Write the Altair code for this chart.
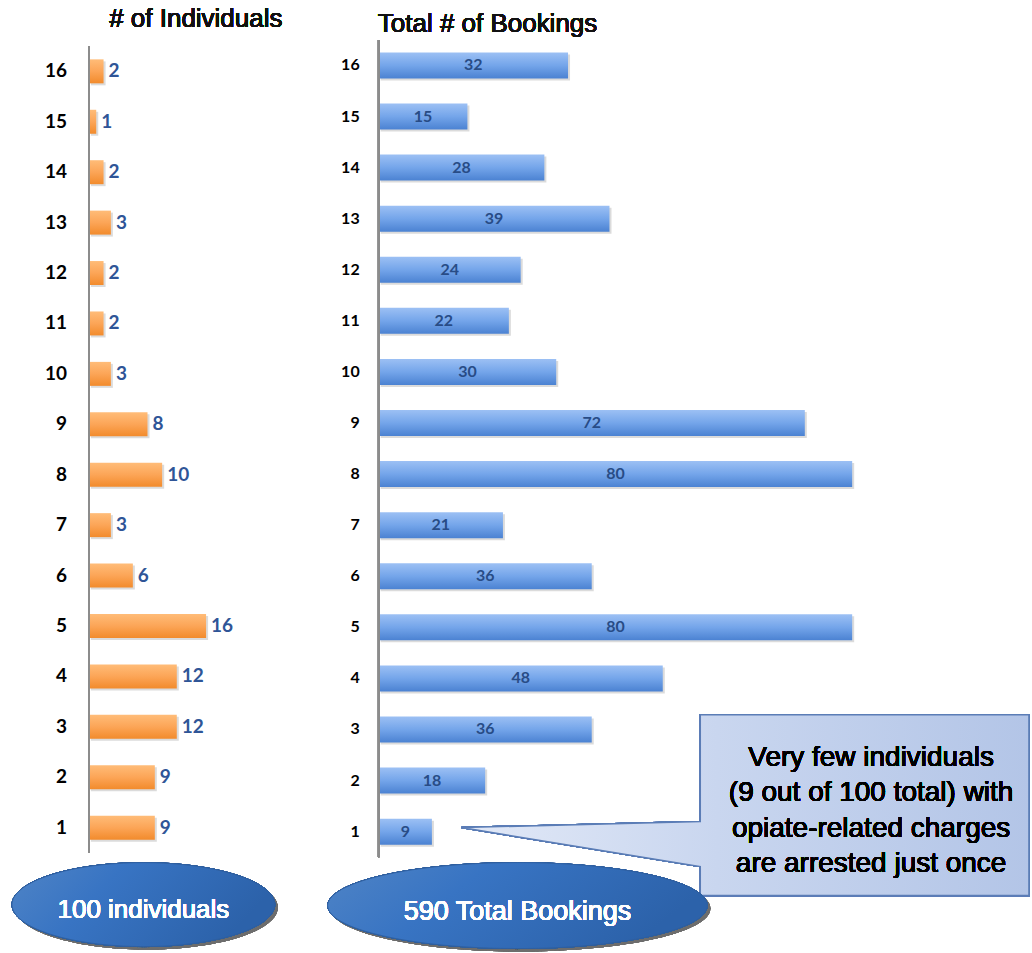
import altair as alt
import pandas as pd

# ---- data ----
arrests = list(range(1, 17))
individuals = [9, 9, 12, 12, 16, 6, 3, 10, 8, 3, 2, 2, 3, 2, 1, 2]
bookings = [9, 18, 36, 48, 80, 36, 21, 80, 72, 30, 22, 24, 39, 28, 15, 32]
left_title = "# of Individuals"
right_title = "Total # of Bookings"
left_total = "100 individuals"
right_total = "590 Total Bookings"
callout_lines = ["Very few individuals", "(9 out of 100 total) with",
                 "opiate-related charges", "are arrested just once"]

df_l = pd.DataFrame({"row": arrests, "value": individuals})
df_r = pd.DataFrame({"row": arrests, "value": bookings})

H = 953
LW, RW = 320, 712
TITLE_FONT = "Liberation Sans"
NUM_FONT = "Lato"


def ellipse_path(k):
    c = 0.5523
    return (f"M -1 0 C -1 {-c*k:.4f} {-c:.4f} {-k:.4f} 0 {-k:.4f} "
            f"C {c:.4f} {-k:.4f} 1 {-c*k:.4f} 1 0 "
            f"C 1 {c*k:.4f} {c:.4f} {k:.4f} 0 {k:.4f} "
            f"C {-c:.4f} {k:.4f} -1 {c*k:.4f} -1 0 Z")


orange_grad = alt.LinearGradient(
    gradient="linear", x1=0, y1=0, x2=0, y2=1,
    stops=[alt.GradientStop(offset=0, color="#FFBC78"),
           alt.GradientStop(offset=0.5, color="#FCA557"),
           alt.GradientStop(offset=1, color="#F28B2C")])
blue_grad = alt.LinearGradient(
    gradient="linear", x1=0, y1=0, x2=0, y2=1,
    stops=[alt.GradientStop(offset=0, color="#9CC0F4"),
           alt.GradientStop(offset=0.5, color="#74A5EA"),
           alt.GradientStop(offset=1, color="#4B82D2")])
ell_grad = alt.LinearGradient(
    gradient="linear", x1=0, y1=0, x2=1, y2=0.3,
    stops=[alt.GradientStop(offset=0, color="#4F84C6"),
           alt.GradientStop(offset=0.4, color="#3874C3"),
           alt.GradientStop(offset=1, color="#2C62AA")])
call_grad = alt.LinearGradient(
    gradient="linear", x1=0, y1=0, x2=1, y2=0,
    stops=[alt.GradientStop(offset=0, color="#E2E9F7"),
           alt.GradientStop(offset=0.45, color="#C9D6EF"),
           alt.GradientStop(offset=1, color="#B3C5E7")])

# ---- left panel ----
lx = alt.Scale(domain=[-89 / 7.33, (LW - 89) / 7.33], nice=False, zero=False)
ly = alt.Scale(domain=[1 - (H - 828) / 50.47, 1 + 828 / 50.47], nice=False, zero=False)
LH = 12 / 50.47

lbase = alt.Chart(df_l).transform_calculate(
    y1=f"datum.row - {LH}", y2=f"datum.row + {LH}")

l_shadow = lbase.mark_rect(color="#888888", opacity=0.3, xOffset=2, x2Offset=2,
                           yOffset=2, y2Offset=2).encode(
    x=alt.X("value:Q", scale=lx, axis=None), x2=alt.datum(0),
    y=alt.Y("y1:Q", scale=ly, axis=None), y2="y2:Q")
l_bars = lbase.mark_rect(color=orange_grad).encode(
    x=alt.X("value:Q", scale=lx, axis=None), x2=alt.datum(0),
    y=alt.Y("y1:Q", scale=ly, axis=None), y2="y2:Q")
l_axis = alt.Chart(df_l).mark_rule(color="#8C8C8C", strokeWidth=1.5).encode(
    x=alt.datum(0), y=alt.datum(0.5), y2=alt.datum(16.5))
l_vals = alt.Chart(df_l).mark_text(align="left", baseline="middle", dx=5,
                                    font=NUM_FONT, fontWeight="bold", fontSize=19,
                                    color="#2F5597").encode(
    x=alt.X("value:Q"), y=alt.Y("row:Q"), text="value:Q")
l_cats = alt.Chart(df_l).mark_text(align="right", baseline="middle", dx=-22,
                                    font=NUM_FONT, fontWeight="bold", fontSize=19,
                                    color="#000000").encode(
    x=alt.datum(0), y=alt.Y("row:Q"), text="row:Q")
l_title = alt.Chart(df_l).mark_text(font=TITLE_FONT, fontSize=26, color="#111111",
                                     fontWeight="normal", baseline="middle").encode(
    x=alt.datum(14.6), y=alt.datum(17.03), text=alt.datum(left_title))
LK = 84 / 263
l_ell_sh = alt.Chart(df_l).mark_point(shape=ellipse_path(LK), size=263 ** 2,
                                       filled=True, color="#6E6E6E", opacity=0.55,
                                       xOffset=3, yOffset=3).encode(
    x=alt.datum(7.44), y=alt.datum(-0.526))
l_ell = alt.Chart(df_l).mark_point(shape=ellipse_path(LK), size=263 ** 2,
                                    filled=True, fill=ell_grad, opacity=1,
                                    stroke="#2E5E9E", strokeWidth=0.8).encode(
    x=alt.datum(7.44), y=alt.datum(-0.526))
l_ell_t = alt.Chart(df_l).mark_text(font=TITLE_FONT, fontSize=26, color="white",
                                     fontWeight="normal", baseline="middle").encode(
    x=alt.datum(7.44), y=alt.datum(-0.625), text=alt.datum(left_total))

left = alt.layer(l_shadow, l_bars, l_axis, l_vals, l_cats, l_title,
                 l_ell_sh, l_ell, l_ell_t).properties(width=LW, height=H)

# ---- right panel ----
rx = alt.Scale(domain=[-59 / 5.925, (RW - 59) / 5.925], nice=False, zero=False)
ry = alt.Scale(domain=[1 - (H - 832) / 51.13, 1 + 832 / 51.13], nice=False, zero=False)
RH = 13 / 51.13

rbase = alt.Chart(df_r).transform_calculate(
    y1=f"datum.row - {RH}", y2=f"datum.row + {RH}", mid="datum.value / 2")

r_shadow = rbase.mark_rect(color="#888888", opacity=0.3, xOffset=2, x2Offset=2,
                           yOffset=2, y2Offset=2).encode(
    x=alt.X("value:Q", scale=rx, axis=None), x2=alt.datum(0),
    y=alt.Y("y1:Q", scale=ry, axis=None), y2="y2:Q")
r_bars = rbase.mark_rect(color=blue_grad).encode(
    x=alt.X("value:Q", scale=rx, axis=None), x2=alt.datum(0),
    y=alt.Y("y1:Q", scale=ry, axis=None), y2="y2:Q")
r_axis = alt.Chart(df_r).mark_rule(color="#8C8C8C", strokeWidth=1.5).encode(
    x=alt.datum(0), y=alt.datum(0.5), y2=alt.datum(16.5))
r_vals = rbase.mark_text(align="center", baseline="middle",
                         font=NUM_FONT, fontWeight="bold", fontSize=16,
                         color="#284C86").encode(
    x=alt.X("mid:Q"), y=alt.Y("row:Q"), text="value:Q")
r_cats = alt.Chart(df_r).mark_text(align="right", baseline="middle", dx=-19,
                                    font=NUM_FONT, fontWeight="bold", fontSize=16,
                                    color="#000000").encode(
    x=alt.datum(0), y=alt.Y("row:Q"), text="row:Q")
r_title = alt.Chart(df_r).mark_text(font=TITLE_FONT, fontSize=26, color="#111111",
                                     fontWeight="normal", baseline="middle").encode(
    x=alt.datum(18.4), y=alt.datum(16.82), text=alt.datum(right_title))

# callout anchored at its pointer tip
callout_path = ("M 0 0 L 2.39 -0.06 L 2.39 -1.13 L 5.68 -1.13 "
                "L 5.68 0.68 L 2.39 0.68 L 2.39 0.39 Z")
r_call = alt.Chart(df_r).mark_point(shape=callout_path, size=40000, filled=True,
                                     fill=call_grad, opacity=1, stroke="#5B7DB6",
                                     strokeWidth=1.5).encode(
    x=alt.datum(14.0), y=alt.datum(1.08))
r_call_t = alt.Chart(df_r).mark_text(text=callout_lines, font=TITLE_FONT,
                                      fontSize=28, lineHeight=35.5, color="#000000",
                                      fontWeight="normal",
                                      baseline="middle", align="center").encode(
    x=alt.datum(83.2), y=alt.datum(2.45))

RK = 86 / 380
r_ell_sh = alt.Chart(df_r).mark_point(shape=ellipse_path(RK), size=380 ** 2,
                                       filled=True, color="#6E6E6E", opacity=0.55,
                                       xOffset=3, yOffset=3).encode(
    x=alt.datum(23.46), y=alt.datum(-0.447))
r_ell = alt.Chart(df_r).mark_point(shape=ellipse_path(RK), size=380 ** 2,
                                    filled=True, fill=ell_grad, opacity=1,
                                    stroke="#2E5E9E", strokeWidth=0.8).encode(
    x=alt.datum(23.46), y=alt.datum(-0.447))
r_ell_t = alt.Chart(df_r).mark_text(font=TITLE_FONT, fontSize=27, color="white",
                                     fontWeight="normal", baseline="middle").encode(
    x=alt.datum(23.46), y=alt.datum(-0.565), text=alt.datum(right_total))

right = alt.layer(r_shadow, r_bars, r_axis, r_vals, r_cats, r_title,
                  r_call, r_call_t, r_ell_sh, r_ell, r_ell_t).properties(width=RW, height=H)

chart = alt.hconcat(left, right, spacing=0, bounds="flush").properties(
    padding=0, background="white"
).configure_view(stroke=None)

chart.save("out.html", embed_options={"renderer": "svg", "actions": False})
